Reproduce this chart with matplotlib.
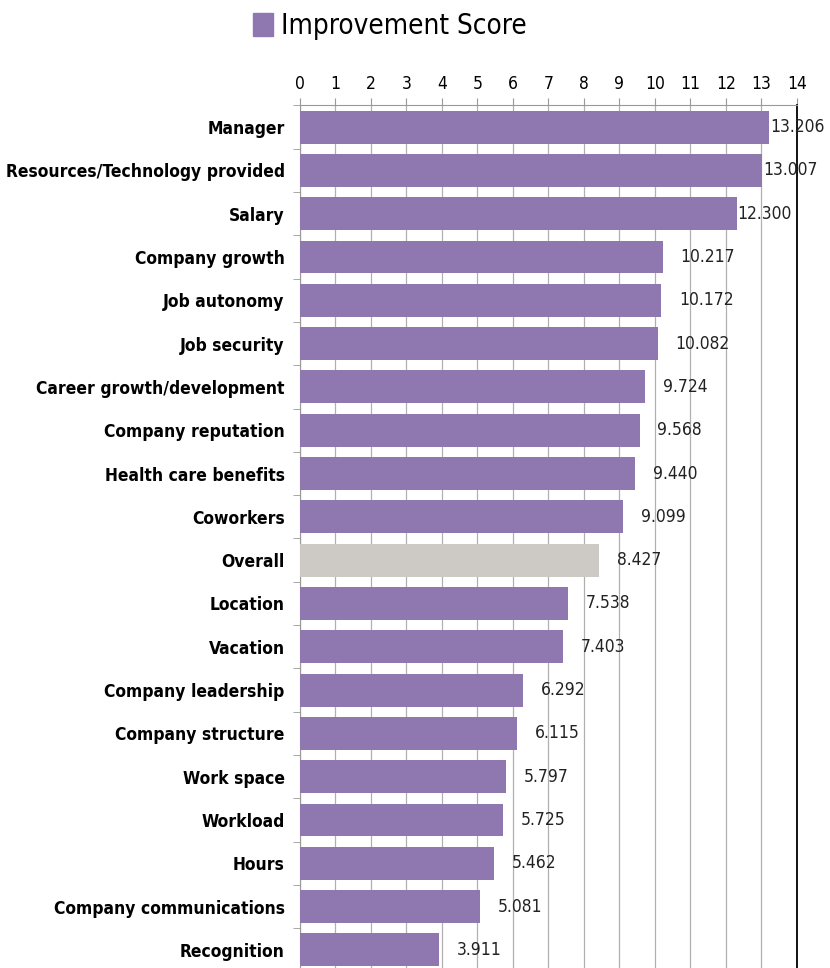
import matplotlib
matplotlib.use("Agg")
import numpy as np
import matplotlib.pyplot as plt
from matplotlib.patches import Patch

categories = [
    'Manager', 'Resources/Technology provided', 'Salary', 'Company growth',
    'Job autonomy', 'Job security', 'Career growth/development',
    'Company reputation', 'Health care benefits', 'Coworkers', 'Overall',
    'Location', 'Vacation', 'Company leadership', 'Company structure',
    'Work space', 'Workload', 'Hours', 'Company communications', 'Recognition',
]
scores = [13.206, 13.007, 12.300, 10.217, 10.172, 10.082, 9.724, 9.568,
          9.440, 9.099, 8.427, 7.538, 7.403, 6.292, 6.115, 5.797, 5.725,
          5.462, 5.081, 3.911]
x_ticks = list(range(0, 15))

purple = '#8f78b0'
grey = '#cdcac6'
colors = [grey if c == 'Overall' else purple for c in categories]
FONT = dict(family='DejaVu Sans', stretch='condensed')

fig = plt.figure(figsize=(8.3, 9.68), dpi=100)
ax = fig.add_axes([0.3614, -0.0037, 0.5988, 0.8948])

y = np.arange(len(categories))
ax.barh(y, scores, height=0.76, color=colors, zorder=3)

for yi, v in zip(y, scores):
    off = 0.03 if v > 12 else 0.5
    ax.text(v + off, yi, f'{v:.3f}', va='center', ha='left', fontsize=12.5,
            color='#222222', zorder=4, **FONT)

ax.set_xlim(0, 14)
ax.set_ylim(len(categories) - 0.5, -0.5)
ax.xaxis.tick_top()
ax.set_xticks(x_ticks)
ax.set_xticklabels([str(t) for t in x_ticks], fontsize=12.5, **FONT)
ax.tick_params(axis='x', length=5, color='#999999', pad=4)
ax.grid(axis='x', color='#b0b0b0', lw=0.9, zorder=0)

ax.set_yticks(y)
ax.set_yticklabels(categories, fontsize=12.5, fontweight='bold', **FONT)
ax.set_yticks(np.arange(len(categories) + 1) - 0.5, minor=True)
ax.tick_params(axis='y', which='major', length=0, pad=11)
ax.tick_params(axis='y', which='minor', length=5, color='#999999')

ax.spines['right'].set_color('black')
ax.spines['right'].set_linewidth(1.3)
ax.spines['left'].set_color('#999999')
ax.spines['top'].set_color('#999999')
ax.spines['bottom'].set_visible(False)

fig.legend(handles=[Patch(color=purple, label='Improvement Score')],
           loc='center', bbox_to_anchor=(0.47, 0.973), frameon=False,
           handlelength=0.7, handleheight=0.9, handletextpad=0.3,
           prop={'family': 'DejaVu Sans', 'stretch': 'condensed', 'size': 20})

fig.savefig('out.png', dpi=100)
